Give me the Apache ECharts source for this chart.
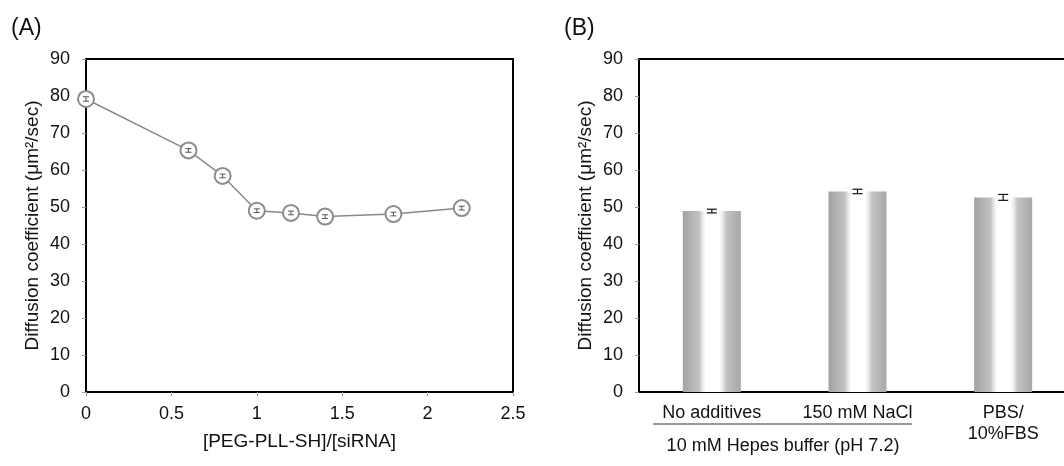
<!DOCTYPE html>
<html>
<head>
<meta charset="utf-8">
<script src="https://cdn.jsdelivr.net/npm/echarts@6/dist/echarts.min.js"></script>
<style>
  html, body { margin: 0; padding: 0; background: #fff; }
  #chart { width: 1064px; height: 466px; }
</style>
</head>
<body>
<div id="chart"></div>
<script>
// Panel A: diffusion coefficient vs polymer/siRNA ratio
const ratioX = [0, 0.6, 0.8, 1.0, 1.2, 1.4, 1.8, 2.2];
const diffA = [79.2, 65.3, 58.4, 49.0, 48.4, 47.4, 48.1, 49.7];
const errA = [0.6, 0.5, 0.5, 0.5, 0.5, 0.5, 0.5, 0.5];

// Panel B: diffusion coefficient per buffer condition
const conditions = ["No additives", "150 mM NaCl", "PBS/\n10%FBS"];
const diffB = [48.9, 54.2, 52.6];
const errB = [0.5, 0.6, 0.8];

const yTicks = { min: 0, max: 90, interval: 10 };
const xTicksA = { min: 0, max: 2.5, interval: 0.5 };

const FONT = "Liberation Sans, Arial, sans-serif";
const yName = "Diffusion coefficient (μm²/sec)";

const chart = echarts.init(document.getElementById("chart"));

const errorBars = (capHalf, color, width) => (params, api) => {
  const x = api.value(0);
  const v = api.value(1);
  const e = api.value(2);
  const top = api.coord([x, v + e]);
  const bot = api.coord([x, v - e]);
  const style = { stroke: color, lineWidth: width };
  return {
    type: "group",
    children: [
      { type: "line", shape: { x1: top[0], y1: top[1], x2: bot[0], y2: bot[1] }, style },
      { type: "line", shape: { x1: top[0] - capHalf, y1: top[1], x2: top[0] + capHalf, y2: top[1] }, style },
      { type: "line", shape: { x1: bot[0] - capHalf, y1: bot[1], x2: bot[0] + capHalf, y2: bot[1] }, style },
    ],
  };
};

const yAxisBase = (gridIndex) => ({
  type: "value",
  gridIndex,
  min: yTicks.min,
  max: yTicks.max,
  interval: yTicks.interval,
  name: yName,
  nameLocation: "middle",
  nameGap: 44,
  nameTextStyle: { fontFamily: FONT, fontSize: 19, color: "#111" },
  axisLine: { show: true, lineStyle: { color: "#000", width: 2 } },
  axisTick: { show: true, length: 4, lineStyle: { color: "#999" } },
  axisLabel: { fontFamily: FONT, fontSize: 18, color: "#111", margin: 16 },
  splitLine: { show: false },
});

const cylinder = new echarts.graphic.LinearGradient(0, 0, 1, 0, [
  { offset: 0, color: "#a2a2a2" },
  { offset: 0.28, color: "#c2c2c2" },
  { offset: 0.36, color: "#f2f2f2" },
  { offset: 0.4, color: "#ffffff" },
  { offset: 0.62, color: "#ffffff" },
  { offset: 0.68, color: "#ededed" },
  { offset: 0.75, color: "#c2c2c2" },
  { offset: 1, color: "#a8a8a8" },
]);

chart.setOption({
  animation: false,
  backgroundColor: "#fff",
  grid: [
    { left: 86, right: 551, top: 59, bottom: 74, show: true, borderColor: "#000", borderWidth: 2, outerBoundsMode: "none" },
    { left: 639, width: 437, top: 59, bottom: 74, show: true, borderColor: "#000", borderWidth: 2, outerBoundsMode: "none" },
  ],
  xAxis: [
    {
      type: "value",
      gridIndex: 0,
      min: xTicksA.min,
      max: xTicksA.max,
      interval: xTicksA.interval,
      name: "[PEG-PLL-SH]/[siRNA]",
      nameLocation: "middle",
      nameGap: 40,
      nameTextStyle: { fontFamily: FONT, fontSize: 19, color: "#111" },
      axisLine: { show: true, lineStyle: { color: "#000", width: 2 } },
      axisTick: { show: true, length: 4, lineStyle: { color: "#999" } },
      axisLabel: { fontFamily: FONT, fontSize: 18, color: "#111", margin: 13 },
      splitLine: { show: false },
    },
    {
      type: "category",
      gridIndex: 1,
      data: conditions,
      axisLine: { show: true, lineStyle: { color: "#000", width: 2 } },
      axisTick: { show: false },
      axisLabel: {
        interval: 0,
        hideOverlap: false,
        fontFamily: FONT,
        fontSize: 18,
        color: "#111",
        margin: 11,
        lineHeight: 21,
      },
    },
  ],
  yAxis: [yAxisBase(0), yAxisBase(1)],
  series: [
    {
      type: "line",
      xAxisIndex: 0,
      yAxisIndex: 0,
      data: ratioX.map((x, i) => [x, diffA[i]]),
      symbol: "emptyCircle",
      symbolSize: 16,
      lineStyle: { color: "#8a8a8a", width: 1.5 },
      itemStyle: { color: "#8c8c8c", borderWidth: 2 },
      z: 2,
    },
    {
      type: "custom",
      xAxisIndex: 0,
      yAxisIndex: 0,
      data: ratioX.map((x, i) => [x, diffA[i], errA[i]]),
      renderItem: errorBars(3, "#555", 1),
      z: 5,
    },
    {
      type: "bar",
      xAxisIndex: 1,
      yAxisIndex: 1,
      data: diffB,
      barWidth: 58,
      itemStyle: { color: cylinder },
    },
    {
      type: "custom",
      xAxisIndex: 1,
      yAxisIndex: 1,
      data: conditions.map((c, i) => [i, diffB[i], errB[i]]),
      renderItem: errorBars(5, "#111", 1.2),
      z: 5,
    },
  ],
  graphic: [
    { type: "text", left: 11, top: 17, style: { text: "(A)", fontFamily: FONT, fontSize: 23, fill: "#111" } },
    { type: "text", left: 564, top: 17, style: { text: "(B)", fontFamily: FONT, fontSize: 23, fill: "#111" } },
    { type: "line", shape: { x1: 653, y1: 424, x2: 912, y2: 424 }, style: { stroke: "#333", lineWidth: 1 } },
    {
      type: "text",
      x: 783,
      y: 446,
      style: {
        text: "10 mM Hepes buffer (pH 7.2)",
        fontFamily: FONT,
        fontSize: 18,
        fill: "#111",
        align: "center",
        verticalAlign: "middle",
      },
    },
  ],
});
</script>
</body>
</html>
